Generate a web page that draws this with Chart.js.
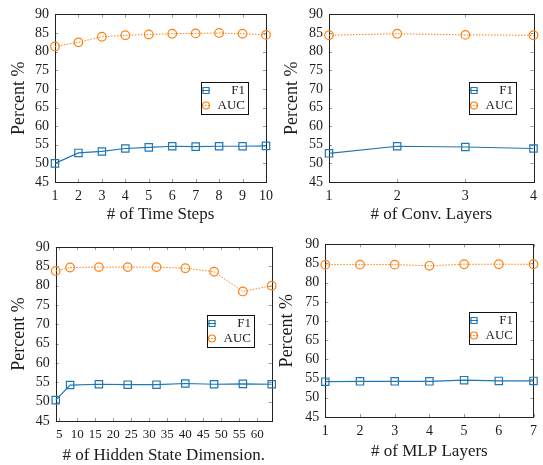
<!DOCTYPE html>
<html>
<head>
<meta charset="utf-8">
<script src="https://cdn.jsdelivr.net/npm/chart.js@4.4.1/dist/chart.umd.min.js"></script>
<style>
  body { margin: 0; background: #fff; }
  #wrap { position: relative; width: 543px; height: 465px; }
  canvas { position: absolute; left: 0; top: 0; }
</style>
</head>
<body>
<div id="wrap">
  <canvas id="time-steps-chart" width="543" height="465"></canvas>
  <canvas id="conv-layers-chart" width="543" height="465"></canvas>
  <canvas id="hidden-dim-chart" width="543" height="465"></canvas>
  <canvas id="mlp-layers-chart" width="543" height="465"></canvas>
</div>
<script>
const yTicks = [45, 50, 55, 60, 65, 70, 75, 80, 85, 90];

const timeSteps = [1, 2, 3, 4, 5, 6, 7, 8, 9, 10];
const f1Time = [50.0, 52.8, 53.2, 54.0, 54.3, 54.6, 54.5, 54.6, 54.6, 54.7];
const aucTime = [81.4, 82.5, 84.0, 84.4, 84.6, 84.8, 84.9, 85.0, 84.8, 84.5];

const convLayers = [1, 2, 3, 4];
const f1Conv = [52.7, 54.6, 54.4, 54.0];
const aucConv = [84.4, 84.8, 84.5, 84.4];

const hiddenDims = [4, 8, 16, 24, 32, 40, 48, 56, 64];
const hiddenTicks = [5, 10, 15, 20, 25, 30, 35, 40, 45, 50, 55, 60];
const f1Hidden = [50.4, 54.3, 54.5, 54.4, 54.4, 54.7, 54.5, 54.6, 54.5];
const aucHidden = [83.8, 84.7, 84.8, 84.8, 84.8, 84.5, 83.6, 78.5, 80.0];

const mlpLayers = [1, 2, 3, 4, 5, 6, 7];
const f1Mlp = [54.2, 54.3, 54.3, 54.3, 54.6, 54.4, 54.4];
const aucMlp = [84.7, 84.7, 84.7, 84.4, 84.8, 84.8, 84.8];

const serif = '"Liberation Serif", "DejaVu Serif", serif';
const blue = '#1f77b4';
const orange = '#ff7f0e';
const textColor = '#1a1a1a';

// frame round the plot area, little inward ticks, and the boxed legend
const framePlugin = {
    id: 'frame',
    beforeDatasetsDraw(chart) {
        const {ctx, chartArea: a} = chart;
        const xs = chart.scales.x, ys = chart.scales.y;
        ctx.save();
        ctx.strokeStyle = '#999';
        ctx.lineWidth = 1;
        ctx.beginPath();
        xs.ticks.forEach(t => {
            const px = Math.round(xs.getPixelForValue(t.value)) + 0.5;
            ctx.moveTo(px, a.bottom); ctx.lineTo(px, a.bottom - 3);
            ctx.moveTo(px, a.top); ctx.lineTo(px, a.top + 3);
        });
        ys.ticks.forEach(t => {
            const py = Math.round(ys.getPixelForValue(t.value)) + 0.5;
            ctx.moveTo(a.left, py); ctx.lineTo(a.left + 3, py);
            ctx.moveTo(a.right, py); ctx.lineTo(a.right - 3, py);
        });
        ctx.stroke();
        ctx.strokeStyle = '#222';
        ctx.strokeRect(Math.round(a.left) + 0.5, Math.round(a.top) + 0.5,
            Math.round(a.right - a.left), Math.round(a.bottom - a.top));
        ctx.restore();
    },
    afterDraw(chart) {
        const {ctx, chartArea: a} = chart;
        const w = 47, h = 32;
        const x0 = Math.round(a.right - 18 - w) + 0.5;
        const y0 = Math.round(a.top + 68) + 0.5;
        ctx.save();
        ctx.fillStyle = '#fff';
        ctx.fillRect(x0, y0, w, h);
        ctx.strokeStyle = '#111';
        ctx.lineWidth = 1;
        ctx.strokeRect(x0, y0, w, h);
        chart.data.datasets.forEach((ds, i) => {
            const cy = y0 + 8 + i * 15;
            const cx = x0 + 4.5;
            ctx.strokeStyle = ds.borderColor;
            ctx.lineWidth = 1;
            ctx.setLineDash(ds.borderDash || []);
            ctx.beginPath();
            ctx.moveTo(cx - 4, cy); ctx.lineTo(cx + 4, cy);
            ctx.stroke();
            ctx.setLineDash([]);
            ctx.lineWidth = 1.2;
            ctx.beginPath();
            if (ds.pointStyle === 'rect') {
                ctx.rect(cx - 3, cy - 3, 6, 6);
            } else {
                ctx.arc(cx, cy, 3.5, 0, Math.PI * 2);
            }
            ctx.stroke();
            ctx.fillStyle = textColor;
            ctx.font = '13px ' + serif;
            ctx.textAlign = 'right';
            ctx.textBaseline = 'middle';
            ctx.fillText(ds.label, x0 + w - 3.5, cy + 0.5);
        });
        ctx.restore();
    }
};

function makeChart(id, cfg) {
    const f1Data = cfg.xs.map((x, i) => ({x: x, y: cfg.f1[i]}));
    const aucData = cfg.xs.map((x, i) => ({x: x, y: cfg.auc[i]}));
    const axisLeft = cfg.yTitleX - 9;
    const xHeight = cfg.xTitleY + 8.5 - cfg.bottom;
    return new Chart(document.getElementById(id), {
        type: 'line',
        data: {
            datasets: [{
                label: 'F1',
                data: f1Data,
                borderColor: blue,
                borderWidth: 1.2,
                pointStyle: 'rect',
                pointRadius: 5.2,
                pointBorderWidth: 1.2,
                pointBackgroundColor: 'rgba(0,0,0,0)',
                pointBorderColor: blue,
                clip: false
            }, {
                label: 'AUC',
                data: aucData,
                borderColor: orange,
                borderWidth: 1,
                borderDash: [1.5, 1.5],
                pointStyle: 'circle',
                pointRadius: 4.3,
                pointBorderWidth: 1.2,
                pointBackgroundColor: 'rgba(0,0,0,0)',
                pointBorderColor: orange,
                clip: false
            }]
        },
        options: {
            responsive: false,
            animation: false,
            events: [],
            layout: {
                padding: {
                    left: axisLeft,
                    top: cfg.top,
                    right: 543 - cfg.right,
                    bottom: 465 - cfg.bottom - xHeight
                }
            },
            plugins: {
                legend: { display: false },
                tooltip: { enabled: false }
            },
            scales: {
                x: {
                    type: 'linear',
                    min: cfg.xMin,
                    max: cfg.xMax,
                    afterBuildTicks: s => { s.ticks = cfg.xTicks.map(v => ({value: v})); },
                    afterFit: s => { s.height = xHeight; },
                    grid: { display: false, drawTicks: false },
                    border: { display: false },
                    ticks: {
                        padding: 6, color: textColor, autoSkip: false,
                        maxRotation: 0, minRotation: 0,
                        font: { family: serif, size: cfg.xTickSize || 14 }
                    },
                    title: {
                        display: true,
                        text: cfg.xTitle,
                        color: textColor,
                        padding: 0,
                        font: { family: serif, size: 17, lineHeight: 1 }
                    }
                },
                y: {
                    type: 'linear',
                    min: 45,
                    max: 90,
                    afterBuildTicks: s => { s.ticks = yTicks.map(v => ({value: v})); },
                    afterFit: s => { s.width = cfg.left - axisLeft; },
                    grid: { display: false, drawTicks: false },
                    border: { display: false },
                    ticks: {
                        padding: 6, color: textColor, autoSkip: false,
                        font: { family: serif, size: 14 }
                    },
                    title: {
                        display: true,
                        text: 'Percent %',
                        color: textColor,
                        padding: 0,
                        font: { family: serif, size: 18, lineHeight: 1 }
                    }
                }
            }
        },
        plugins: [framePlugin]
    });
}

const timeStepsChart = makeChart('time-steps-chart', {
    xs: timeSteps, f1: f1Time, auc: aucTime,
    xMin: 1, xMax: 10, xTicks: timeSteps, xTitle: '# of Time Steps',
    left: 55, top: 12, right: 266, bottom: 182, yTitleX: 19, xTitleY: 215
});

const convLayersChart = makeChart('conv-layers-chart', {
    xs: convLayers, f1: f1Conv, auc: aucConv,
    xMin: 1, xMax: 4, xTicks: convLayers, xTitle: '# of Conv. Layers',
    left: 329, top: 12, right: 540, bottom: 182, yTitleX: 292.7, xTitleY: 215
});

const hiddenDimChart = makeChart('hidden-dim-chart', {
    xs: hiddenDims, f1: f1Hidden, auc: aucHidden,
    xMin: 4, xMax: 64, xTicks: hiddenTicks, xTitle: '# of Hidden State Dimension.',
    left: 55.7, top: 247, right: 271.7, bottom: 421, yTitleX: 19, xTitleY: 455.5,
    xTickSize: 13
});

const mlpLayersChart = makeChart('mlp-layers-chart', {
    xs: mlpLayers, f1: f1Mlp, auc: aucMlp,
    xMin: 1, xMax: 7, xTicks: mlpLayers, xTitle: '# of MLP Layers',
    left: 325.3, top: 244.3, right: 539.7, bottom: 417, yTitleX: 287.7, xTitleY: 452
});
</script>
</body>
</html>
